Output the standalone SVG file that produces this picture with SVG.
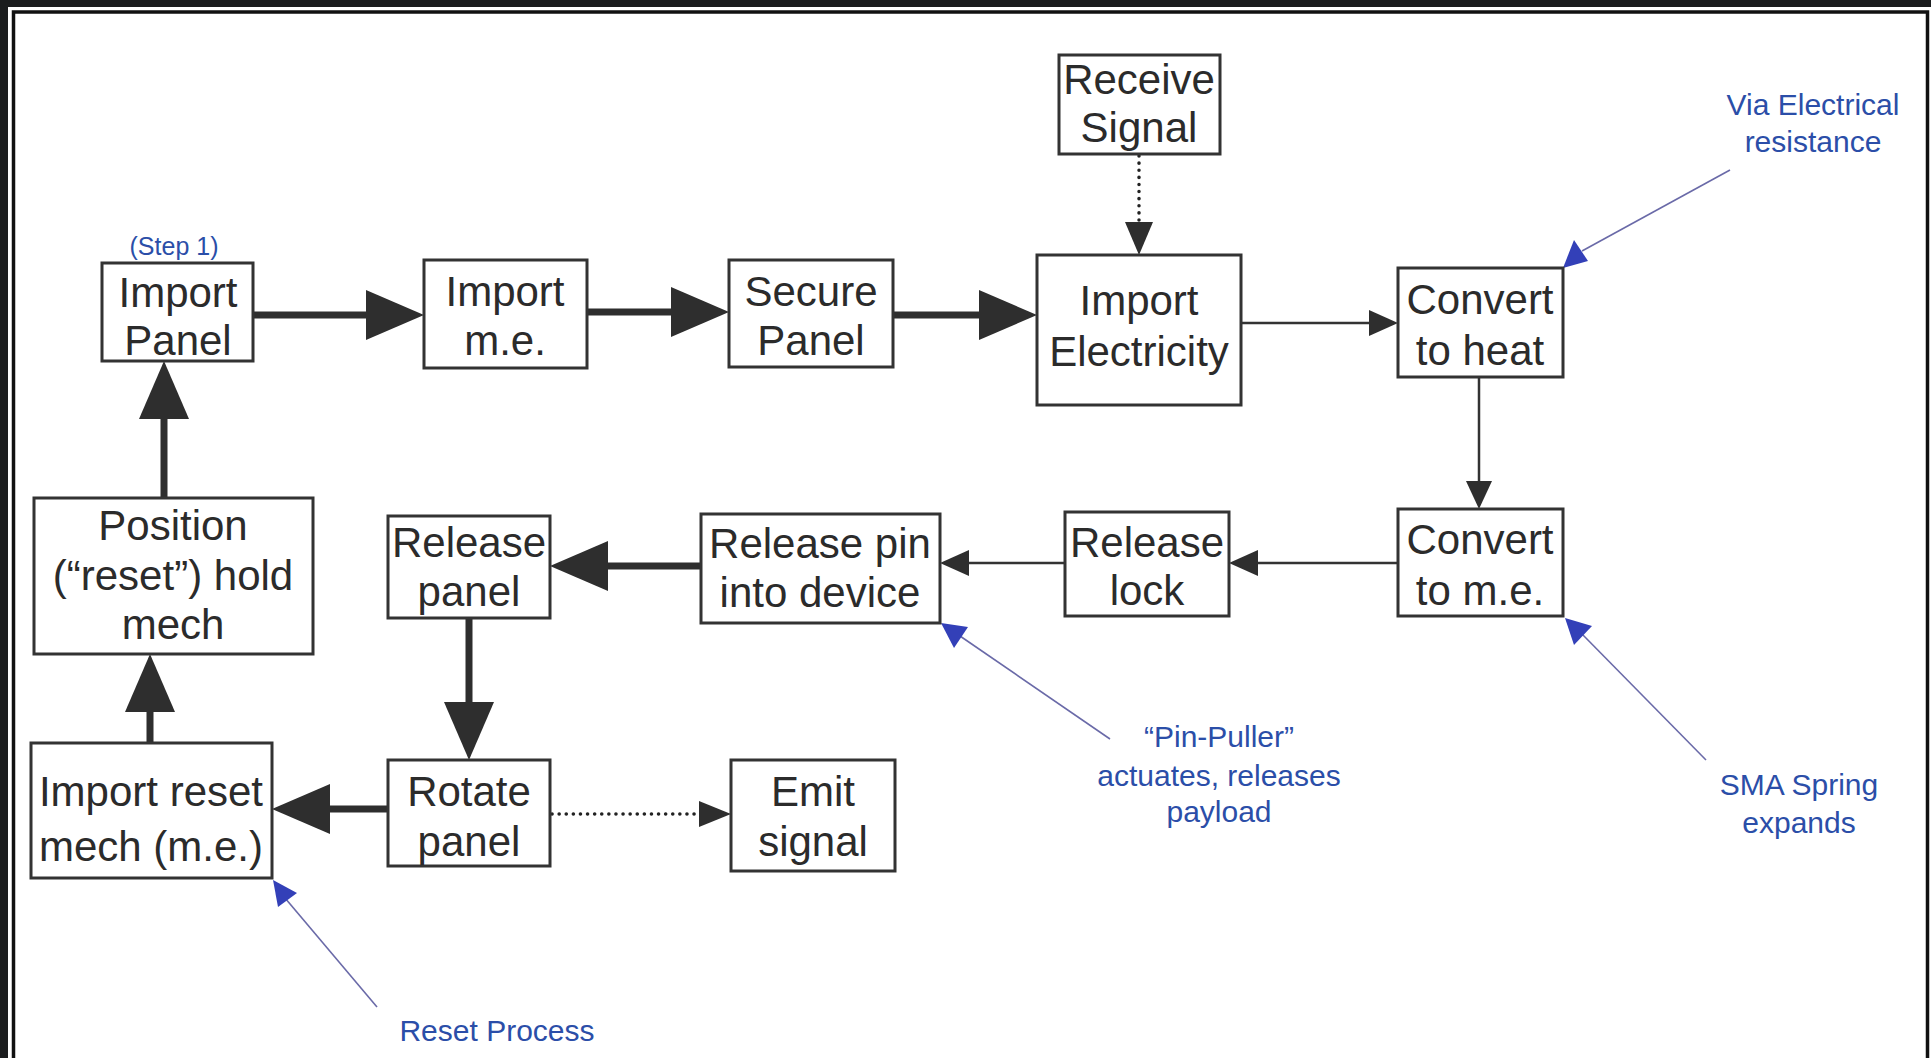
<svg xmlns="http://www.w3.org/2000/svg" width="1931" height="1058" viewBox="0 0 1931 1058">
<defs>
<style>
.box{fill:#fff;stroke:#333;stroke-width:3}
.t{font-family:"Liberation Sans",Arial,Helvetica,sans-serif;font-size:42px;fill:#2b2b2b;text-anchor:middle}
.a{font-family:"Liberation Sans",Arial,Helvetica,sans-serif;font-size:30px;fill:#2b4ea8;text-anchor:middle}
.thick{stroke:#2e2e2e;stroke-width:7;fill:none;stroke-linecap:round}
.thin{stroke:#333;stroke-width:2.5;fill:none}
.dot{stroke:#222;stroke-width:3.5;fill:none;stroke-dasharray:0.1 7;stroke-linecap:round}
.note{stroke:#6a6aa8;stroke-width:1.6;fill:none}
.hd{fill:#2e2e2e}
.bhd{fill:#3340b8}
</style>
</defs>
<rect x="0" y="0" width="1931" height="1058" fill="#1b1d1e"/>
<rect x="8" y="7" width="1923" height="1051" fill="#fff"/>
<path d="M13.5 1058 V12 H1927.5 V1058" fill="none" stroke="#111" stroke-width="3.5"/>

<g id="connectors">
<line class="thick" x1="253" y1="315" x2="368" y2="315"/>
<polygon class="hd" points="366,290 424,315 366,340"/>
<line class="thick" x1="587" y1="312" x2="673" y2="312"/>
<polygon class="hd" points="671,287 729,312 671,337"/>
<line class="thick" x1="893" y1="315" x2="981" y2="315"/>
<polygon class="hd" points="979,290 1037,315 979,340"/>
<line class="dot" x1="1139" y1="156" x2="1139" y2="222"/>
<polygon class="hd" points="1125,222 1153,222 1139,255"/>
<line class="thin" x1="1241" y1="323" x2="1370" y2="323"/>
<polygon class="hd" points="1369,310 1398,323 1369,336"/>
<line class="thin" x1="1479" y1="377" x2="1479" y2="482"/>
<polygon class="hd" points="1466,481 1492,481 1479,509"/>
<line class="thin" x1="1398" y1="563" x2="1257" y2="563"/>
<polygon class="hd" points="1258,550 1229,563 1258,576"/>
<line class="thin" x1="1065" y1="563" x2="968" y2="563"/>
<polygon class="hd" points="969,550 940,563 969,576"/>
<line class="thick" x1="701" y1="566" x2="606" y2="566"/>
<polygon class="hd" points="608,541 550,566 608,591"/>
<line class="thick" x1="469" y1="618" x2="469" y2="704"/>
<polygon class="hd" points="444,702 494,702 469,760"/>
<line class="thick" x1="388" y1="809" x2="328" y2="809"/>
<polygon class="hd" points="330,784 272,809 330,834"/>
<line class="dot" x1="552" y1="814" x2="700" y2="814"/>
<polygon class="hd" points="699,801 731,814 699,827"/>
<line class="thick" x1="150" y1="743" x2="150" y2="710"/>
<polygon class="hd" points="125,712 175,712 150,654"/>
<line class="thick" x1="164" y1="498" x2="164" y2="417"/>
<polygon class="hd" points="139,419 189,419 164,361"/>
<line class="note" x1="1730" y1="170" x2="1582" y2="251"/>
<polygon class="bhd" points="1563,268 1574,240 1588,261"/>
<line class="note" x1="1706" y1="760" x2="1582" y2="634"/>
<polygon class="bhd" points="1565,618 1592,626 1574,645"/>
<line class="note" x1="1110" y1="739" x2="960" y2="636"/>
<polygon class="bhd" points="941,623 968,627 954,648"/>
<line class="note" x1="377" y1="1007" x2="285" y2="898"/>
<polygon class="bhd" points="273,880 297,893 278,907"/>
</g>

<g id="n-import-panel">
<rect class="box" x="102" y="263" width="151" height="98"/>
<text class="t" x="178" y="307">Import</text>
<text class="t" x="178" y="355">Panel</text>
<text class="a" x="174" y="255" style="font-size:25px">(Step 1)</text>
</g>
<g id="n-import-me">
<rect class="box" x="424" y="260" width="163" height="108"/>
<text class="t" x="505" y="306">Import</text>
<text class="t" x="505" y="355">m.e.</text>
</g>
<g id="n-secure-panel">
<rect class="box" x="729" y="260" width="164" height="107"/>
<text class="t" x="811" y="306">Secure</text>
<text class="t" x="811" y="355">Panel</text>
</g>
<g id="n-import-electricity">
<rect class="box" x="1037" y="255" width="204" height="150"/>
<text class="t" x="1139" y="315">Import</text>
<text class="t" x="1139" y="366">Electricity</text>
</g>
<g id="n-receive-signal">
<rect class="box" x="1059" y="55" width="161" height="99"/>
<text class="t" x="1139" y="94">Receive</text>
<text class="t" x="1139" y="142">Signal</text>
</g>
<g id="n-convert-heat">
<rect class="box" x="1398" y="268" width="165" height="109"/>
<text class="t" x="1480" y="314">Convert</text>
<text class="t" x="1480" y="365">to heat</text>
</g>
<g id="n-convert-me">
<rect class="box" x="1398" y="509" width="165" height="107"/>
<text class="t" x="1480" y="554">Convert</text>
<text class="t" x="1480" y="605">to m.e.</text>
</g>
<g id="n-release-lock">
<rect class="box" x="1065" y="512" width="164" height="104"/>
<text class="t" x="1147" y="557">Release</text>
<text class="t" x="1147" y="605">lock</text>
</g>
<g id="n-release-pin">
<rect class="box" x="701" y="514" width="239" height="109"/>
<text class="t" x="820" y="558">Release pin</text>
<text class="t" x="820" y="607">into device</text>
</g>
<g id="n-release-panel">
<rect class="box" x="388" y="516" width="162" height="102"/>
<text class="t" x="469" y="557">Release</text>
<text class="t" x="469" y="606">panel</text>
</g>
<g id="n-rotate-panel">
<rect class="box" x="388" y="760" width="162" height="106"/>
<text class="t" x="469" y="806">Rotate</text>
<text class="t" x="469" y="856">panel</text>
</g>
<g id="n-emit-signal">
<rect class="box" x="731" y="760" width="164" height="111"/>
<text class="t" x="813" y="806">Emit</text>
<text class="t" x="813" y="856">signal</text>
</g>
<g id="n-import-reset">
<rect class="box" x="31" y="743" width="241" height="135"/>
<text class="t" x="151" y="806">Import reset</text>
<text class="t" x="151" y="861">mech (m.e.)</text>
</g>
<g id="n-position-hold">
<rect class="box" x="34" y="498" width="279" height="156"/>
<text class="t" x="173" y="540">Position</text>
<text class="t" x="173" y="590">(“reset”) hold</text>
<text class="t" x="173" y="639">mech</text>
</g>

<g id="annotations">
<text class="a" x="1813" y="115">Via Electrical</text>
<text class="a" x="1813" y="152">resistance</text>
<text class="a" x="1799" y="795">SMA Spring</text>
<text class="a" x="1799" y="833">expands</text>
<text class="a" x="1219" y="747">“Pin-Puller”</text>
<text class="a" x="1219" y="786">actuates, releases</text>
<text class="a" x="1219" y="822">payload</text>
<text class="a" x="497" y="1041">Reset Process</text>
</g>
</svg>
